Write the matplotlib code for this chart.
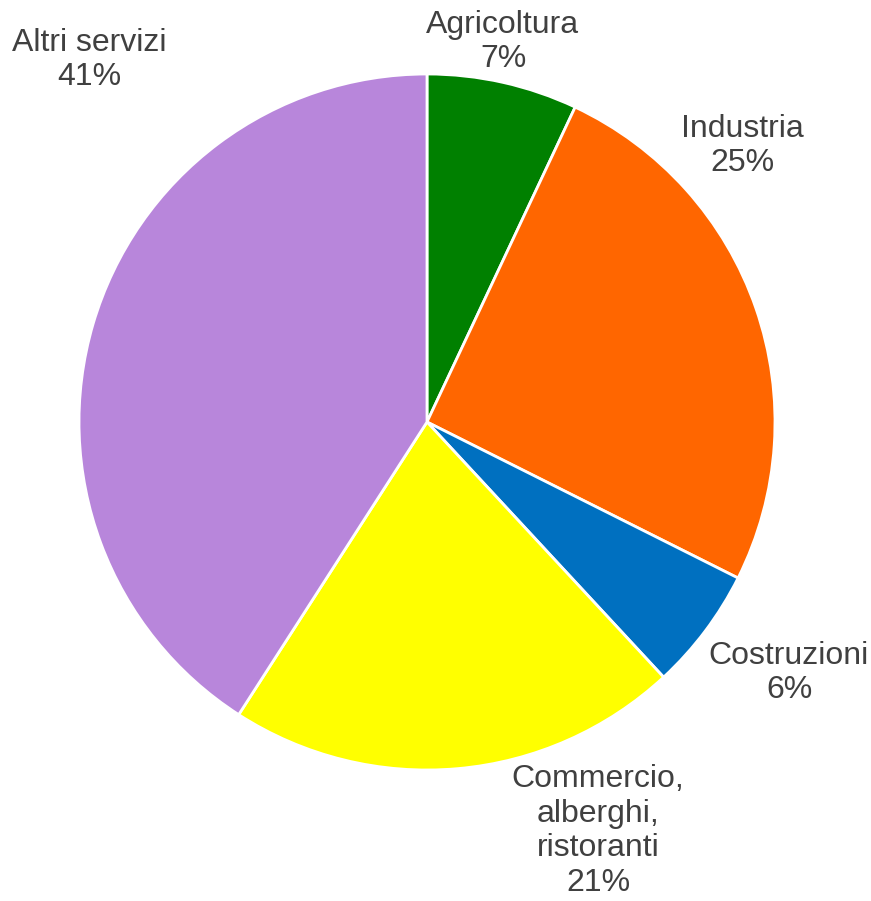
import matplotlib.pyplot as plt

# DATI
settori = ["Agricoltura", "Industria", "Costruzioni",
           "Commercio,\nalberghi,\nristoranti", "Altri servizi"]
quote = [7.0, 25.4, 5.7, 21.0, 40.9]
colori = ["#008000", "#FF6600", "#0070C0", "#FFFF00", "#B886DB"]

# posizione delle etichette (pixel dell'immagine)
pos_etichette = [(503, 42), (742, 146), (789, 673), (598, 831), (89, 60)]

W, H = 871, 901
CX, CY, R = 427, 422, 348

fig = plt.figure(figsize=(W / 100, H / 100), dpi=100)
ax = fig.add_axes([0, 0, 1, 1])

ax.pie(
    quote,
    colors=colori,
    startangle=90,
    counterclock=False,
    radius=1,
    wedgeprops=dict(edgecolor="white", linewidth=2.0),
)

for nome, q, (px, py) in zip(settori, quote, pos_etichette):
    ax.text(
        (px - CX) / R,
        (CY - py) / R,
        f"{nome}\n{round(q)}%",
        ha="center",
        va="center",
        fontsize=23,
        family="Liberation Sans",
        color="#404040",
        linespacing=1.2,
    )

ax.set_xlim(-CX / R, (W - CX) / R)
ax.set_ylim((CY - H) / R, CY / R)
ax.set_aspect("auto")
ax.axis("off")

fig.savefig("out.png", dpi=100)
